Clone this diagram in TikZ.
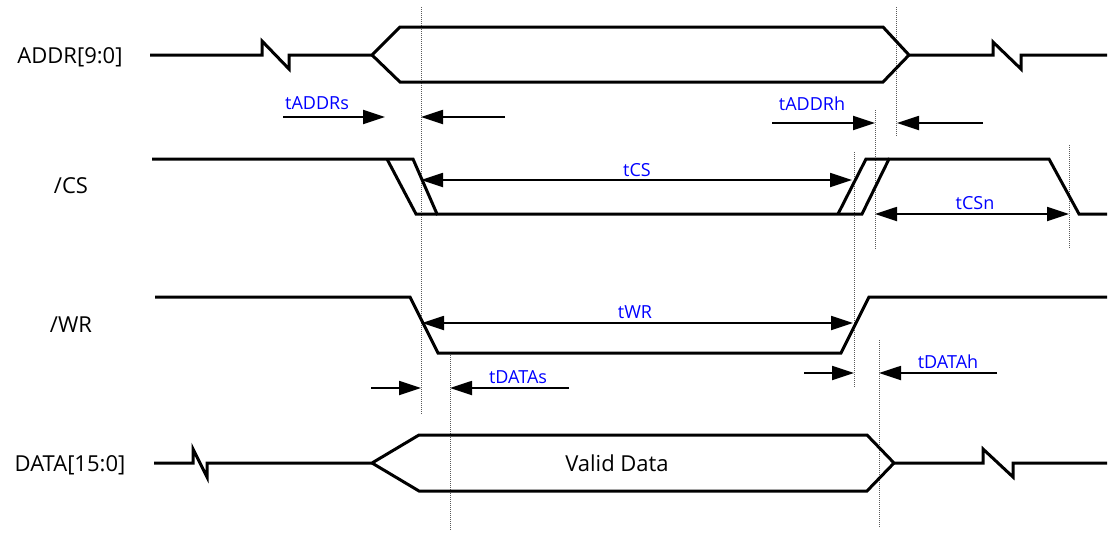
\documentclass[tikz,border=0pt]{standalone}
\usepackage{fontspec}
\setmainfont{Open Sans}
\usetikzlibrary{arrows.meta}
\tikzset{
  signal/.style={line width=3pt},
  guide/.style={line width=0.9pt, black!65, dash pattern=on 1pt off 1pt},
  dimarrow/.style={line width=1.8pt, -{Triangle[length=22pt,width=14pt]}},
  dimboth/.style={line width=1.8pt, {Triangle[length=22pt,width=14pt]}-{Triangle[length=22pt,width=14pt]}},
  signame/.style={anchor=base, font=\fontsize{22}{22}\selectfont},
  timename/.style={anchor=base, text=blue, font=\fontsize{18}{18}\selectfont}
}
\begin{document}
\begin{tikzpicture}[x=1pt,y=-1pt]
  \useasboundingbox (0,0) rectangle (1109,533);

  % Signal names
  \node[signame] (addr) at (70,63) {ADDR[9:0]};
  \node[signame] (cs) at (71,193) {/CS};
  \node[signame] (wr) at (71,332) {/WR};
  \node[signame] (data) at (70,471) {DATA[15:0]};

  % Timing marks
  \draw[guide] (421,7) -- (421,415);
  \draw[guide] (896,7) -- (896,137);
  \draw[guide] (875,110) -- (875,249);
  \draw[guide] (854,152) -- (854,387);
  \draw[guide] (1069,145) -- (1069,249);
  \draw[guide] (450,355) -- (450,530);
  \draw[guide] (879,340) -- (879,527);

  % ADDR bus
  \draw[signal] (150,55) -- (262,55) -- (262,41) -- (289,69) -- (289,55) -- (372,55)
    -- (400,27) -- (883,27) -- (909,55) -- (993,55) -- (993,42) -- (1021,69) -- (1021,55) -- (1107,55);
  \draw[signal] (372,55) -- (400,82) -- (883,82) -- (909,55);

  % /CS (two edges for skew)
  \draw[signal] (152,159) -- (413,159) -- (437,214) -- (862,214) -- (889,159) -- (1049,159)
    -- (1079,214) -- (1107,214);
  \draw[signal] (387,159) -- (416,214) -- (437,214);
  \draw[signal] (838,214) -- (866,159) -- (889,159);

  % /WR
  \draw[signal] (155,297) -- (410,297) -- (438,353) -- (841,353) -- (869,297) -- (1107,297);

  % DATA bus
  \draw[signal] (154,463) -- (193,463) -- (193,449) -- (207,477) -- (207,463) -- (372,463)
    -- (419,435) -- (867,435) -- (894,463) -- (983,463) -- (983,449) -- (1013,477) -- (1013,463) -- (1107,463);
  \draw[signal] (372,463) -- (419,491) -- (867,491) -- (894,463);
  \node[signame] (valid) at (617,471) {Valid Data};

  % Address setup / hold
  \draw[dimarrow] (283,117) -- (385,117);
  \draw[dimarrow] (505,117) -- (421,117);
  \node[timename] (taddrs) at (317,109) {tADDRs};
  \draw[dimarrow] (772,123) -- (875,123);
  \draw[dimarrow] (983,123) -- (897,123);
  \node[timename] (taddrh) at (812,110) {tADDRh};

  % Chip select
  \draw[dimboth] (421,180) -- (852,180);
  \node[timename] (tcs) at (637,176) {tCS};
  \draw[dimboth] (875,214) -- (1069,214);
  \node[timename] (tcsn) at (975,209) {tCSn};

  % Write pulse
  \draw[dimboth] (422,323) -- (853,323);
  \node[timename] (twr) at (635,318) {tWR};

  % Data setup / hold
  \draw[dimarrow] (371,388) -- (421,388);
  \draw[dimarrow] (569,388) -- (450,388);
  \node[timename] (tdatas) at (518,383) {tDATAs};
  \draw[dimarrow] (804,373) -- (854,373);
  \draw[dimarrow] (997,373) -- (879,373);
  \node[timename] (tdatah) at (948,368) {tDATAh};
\end{tikzpicture}
\end{document}
